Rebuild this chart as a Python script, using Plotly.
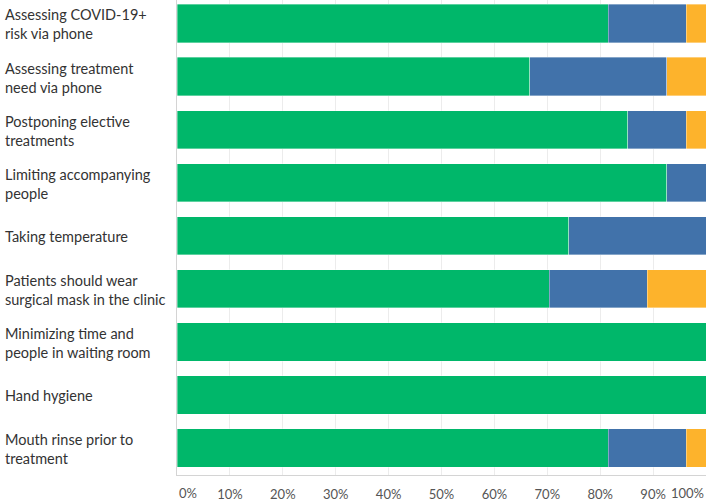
import plotly.graph_objects as go

categories = [
    "Assessing COVID-19+<br>risk via phone",
    "Assessing treatment<br>need via phone",
    "Postponing elective<br>treatments",
    "Limiting accompanying<br>people",
    "Taking temperature",
    "Patients should wear<br>surgical mask in the clinic",
    "Minimizing time and<br>people in waiting room",
    "Hand hygiene",
    "Mouth rinse prior to<br>treatment",
]
yes_vals = [81.5, 66.7, 85.2, 92.6, 74.1, 70.4, 100.0, 100.0, 81.5]
partly_vals = [14.8, 25.9, 11.1, 7.4, 25.9, 18.5, 0.0, 0.0, 14.8]
no_vals = [3.7, 7.4, 3.7, 0.0, 0.0, 11.1, 0.0, 0.0, 3.7]
series_names = ["Yes", "Partly", "No"]
series_colors = ["#00B76A", "#4172AA", "#FDB32C"]
tick_vals = [0, 10, 20, 30, 40, 50, 60, 70, 80, 90, 100]
tick_text = ["", "10%", "20%", "30%", "40%", "50%", "60%", "70%", "80%", "90%", ""]

ids = list(range(len(categories)))

fig = go.Figure()
for name, vals, col in zip(series_names, [yes_vals, partly_vals, no_vals], series_colors):
    fig.add_trace(go.Bar(
        y=ids, x=vals, name=name, orientation="h",
        marker=dict(color=col, line=dict(color="rgba(255,255,255,0.6)", width=0.6)),
    ))

W_L, W_R = 177, 3
plot_w = 709 - W_L - W_R
LABEL_FONT = dict(family="Lato", size=14.5, color="#333333")
TICK_FONT = dict(family="Lato", size=13, color="#555555")

annotations = []
for i, c in enumerate(categories):
    annotations.append(dict(
        x=(3 - W_L) / plot_w, xref="paper", y=i, yref="y", yshift=-1,
        text=c, showarrow=False, xanchor="left", yanchor="middle", align="left",
        font=LABEL_FONT,
    ))
annotations.append(dict(x=tick_vals[0], xref="x", y=0, yref="paper", yshift=-17.5,
                        text="0%", showarrow=False, xanchor="left", yanchor="middle",
                        font=TICK_FONT))
annotations.append(dict(x=tick_vals[-1], xref="x", y=0, yref="paper", yshift=-17.5,
                        text="100%", showarrow=False, xanchor="right", yanchor="middle",
                        font=TICK_FONT))

fig.update_layout(
    width=709, height=501,
    barmode="stack", bargap=0.28,
    showlegend=False,
    plot_bgcolor="white", paper_bgcolor="white",
    margin=dict(l=W_L, r=W_R, t=0, b=25.5, autoexpand=False),
    annotations=annotations,
    xaxis=dict(
        range=[0, 100], tickvals=tick_vals, ticktext=tick_text,
        showgrid=True, gridcolor="#ececec", gridwidth=1,
        showline=True, linecolor="#d4d4d4", linewidth=1,
        zeroline=False, ticks="", ticklabelstandoff=7,
        tickfont=TICK_FONT,
        fixedrange=True,
    ),
    yaxis=dict(
        range=[8.508, -0.442], showticklabels=False, showgrid=False,
        showline=True, linecolor="#d4d4d4", linewidth=1, zeroline=False,
        ticks="", fixedrange=True,
    ),
)

fig.write_html("out.html", config={"displayModeBar": False},
               post_script="document.body.style.margin='0';document.body.style.overflow='hidden';")
